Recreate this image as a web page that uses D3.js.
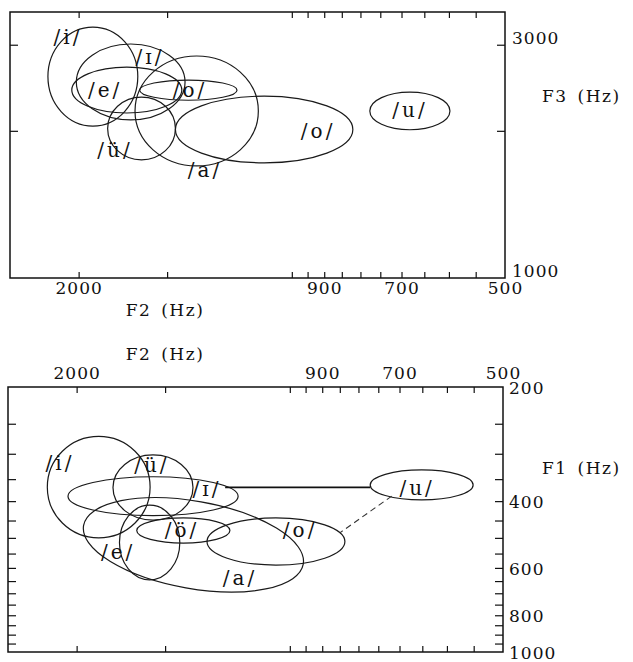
<!DOCTYPE html>
<html>
<head>
<meta charset="utf-8">
<script src="https://cdn.jsdelivr.net/npm/d3@7"></script>
<style>
  body { margin: 0; background: #fff; }
  svg text { font-family: "DejaVu Serif", "Liberation Serif", serif; fill: #111; }
</style>
</head>
<body>
<div id="chart"></div>
<script>
/////////////////////////////////////////////////
/* Data */
/////////////////////////////////////////////////

// ticks and tick labels (Hz)
const f2Ticks = [2000, 1500, 1000, 950, 900, 850, 800, 750, 700, 650, 600, 550];
const f2Labels = [2000, 900, 700, 500];
const f3Ticks = [3000, 2000];
const f3Labels = [3000, 1000];
const f1Ticks = [250, 300, 350, 400, 450, 500, 550, 600, 650, 700, 750, 800, 850, 900, 950];
const f1Labels = [200, 400, 600, 800, 1000];

// upper panel: F2 x F3 vowel areas, [low, high] in Hz
const topVowels = ["/i/", "/ɪ/", "/e/", "/o/", "/ü/", "/a/", "/o/", "/u/"];
const topF2 = [[1650, 2210], [1415, 2015], [1430, 2045], [1195, 1640], [1460, 1820], [1115, 1665], [820, 1460], [598, 776]];
const topF3 = [[2045, 3260], [2105, 3010], [2175, 2700], [2310, 2540], [1745, 2345], [1695, 2845], [1720, 2355], [2010, 2400]];
const topTilt = [0, 0, 0, 0, 0, 0, 0, 0];
const topLabelF2 = [2070, 1586, 1835, 1392, 1777, 1326, 918, 681];
const topLabelF3 = [3110, 2830, 2425, 2425, 1827, 1663, 2000, 2206];

// lower panel: F2 x F1 vowel areas
const botVowels = ["/i/", "/ü/", "/ɪ/", "/e/", "/ö/", "/a/", "/o/", "/u/"];
const botF2 = [[1575, 2200], [1370, 1777], [1183, 2057], [1430, 1740], [1215, 1645], [952, 1966], [836, 1309], [551, 770]];
const botF1 = [[270, 500], [302, 449], [345, 437], [410, 645], [443, 516], [400, 680], [443, 590], [331, 397]];
const botTilt = [0, 0, 0, 0, 0, 10, 0, 0];
const botLabelF2 = [2111, 1566, 1309, 1748, 1420, 1176, 967, 661];
const botLabelF1 = [317, 321, 372, 545, 477, 638, 477, 369];

// connections to /u/ in the lower panel
const linkSolidF2 = [1234, 770];
const linkSolidF1 = [368, 368];
const linkDashF2 = [718, 850];
const linkDashF1 = [388, 485];


/////////////////////////////////////////////////
/* Setup */
/////////////////////////////////////////////////
const svg = d3.select("#chart")
  .append("svg")
    .attr("width", 633)
    .attr("height", 662);

// upper panel scales
const xTop = d3.scaleLog().domain([2500, 500]).range([10, 505]);
const yTop = d3.scaleLog().domain([1000, 3500]).range([278, 12]);

// lower panel scales
const xBot = d3.scaleLog().domain([2500, 500]).range([8, 503]);
const yBot = d3.scaleLog().domain([200, 1000]).range([387, 652]);

const fmt = d3.format("d");


/////////////////////////////////////////////////
/* Helpers */
/////////////////////////////////////////////////

// plot frame
function drawFrame(g, x, y) {
  const [x0, x1] = x.range();
  const [y0, y1] = y.range();
  g.append("rect")
    .attr("x", x0).attr("y", Math.min(y0, y1))
    .attr("width", x1 - x0).attr("height", Math.abs(y1 - y0))
    .attr("fill", "none").attr("stroke", "#111").attr("stroke-width", 1.5);
}

// inward tick marks, no domain line
function tickAxis(g, axis, tx, ty) {
  g.append("g")
    .attr("transform", `translate(${tx},${ty})`)
    .call(axis.tickFormat(""))
    .call(a => a.select(".domain").remove())
    .selectAll("line").attr("stroke", "#111").attr("stroke-width", 1.2);
}

// tick labels only
function labelAxis(g, axis, tx, ty) {
  g.append("g")
    .attr("transform", `translate(${tx},${ty})`)
    .call(axis.tickSize(0).tickFormat(fmt))
    .call(a => a.select(".domain").remove())
    .selectAll("text")
      .style("font-size", "17px")
      .style("letter-spacing", "1px");
}

// vowel areas as ellipses
function drawEllipses(g, x, y, f2, fy, tilt) {
  g.append("g").selectAll("ellipse")
    .data(f2.map((r, i) => ({f2: r, fy: fy[i], tilt: tilt[i]})))
    .join("ellipse")
      .each(function(d) {
        const xa = x(d.f2[1]), xb = x(d.f2[0]);
        const ya = y(d.fy[0]), yb = y(d.fy[1]);
        const cx = (xa + xb) / 2, cy = (ya + yb) / 2;
        d3.select(this)
          .attr("cx", cx).attr("cy", cy)
          .attr("rx", Math.abs(xb - xa) / 2)
          .attr("ry", Math.abs(yb - ya) / 2)
          .attr("transform", `rotate(${d.tilt},${cx},${cy})`);
      })
      .attr("fill", "none")
      .attr("stroke", "#1a1a1a")
      .attr("stroke-width", 1.2);
}

// vowel labels
function drawLabels(g, x, y, names, lf2, lfy) {
  g.append("g").selectAll("text")
    .data(names)
    .join("text")
      .attr("x", (d, i) => x(lf2[i]))
      .attr("y", (d, i) => y(lfy[i]))
      .attr("dy", "0.35em")
      .attr("text-anchor", "middle")
      .style("font-size", "20px")
      .style("letter-spacing", "3px")
      .text(d => d);
}


/////////////////////////////////////////////////
/* Upper panel: F2 x F3 */
/////////////////////////////////////////////////
const upper = svg.append("g");

drawEllipses(upper, xTop, yTop, topF2, topF3, topTilt);
drawLabels(upper, xTop, yTop, topVowels, topLabelF2, topLabelF3);
drawFrame(upper, xTop, yTop);

tickAxis(upper, d3.axisBottom(xTop).tickValues(f2Ticks).tickSize(-6), 0, 278);
tickAxis(upper, d3.axisTop(xTop).tickValues(f2Ticks).tickSize(-6), 0, 12);
tickAxis(upper, d3.axisLeft(yTop).tickValues(f3Ticks).tickSize(-8), 10, 0);
tickAxis(upper, d3.axisRight(yTop).tickValues(f3Ticks).tickSize(-8), 505, 0);

labelAxis(upper, d3.axisBottom(xTop).tickValues(f2Labels).tickPadding(4), 0, 278);
labelAxis(upper, d3.axisRight(yTop).tickValues(f3Labels).tickPadding(7), 505, -7);

upper.append("text")
  .attr("x", 165).attr("y", 316)
  .attr("text-anchor", "middle")
  .style("font-size", "17px").style("letter-spacing", "1.5px").style("word-spacing", "3px")
  .text("F2 (Hz)");

upper.append("text")
  .attr("x", 542).attr("y", 102)
  .style("font-size", "17px").style("letter-spacing", "1.5px").style("word-spacing", "3px")
  .text("F3 (Hz)");


/////////////////////////////////////////////////
/* Lower panel: F2 x F1 */
/////////////////////////////////////////////////
const lower = svg.append("g");

drawEllipses(lower, xBot, yBot, botF2, botF1, botTilt);

lower.append("line")
  .attr("x1", xBot(linkSolidF2[0])).attr("y1", yBot(linkSolidF1[0]))
  .attr("x2", xBot(linkSolidF2[1])).attr("y2", yBot(linkSolidF1[1]))
  .attr("stroke", "#111").attr("stroke-width", 1.6);

lower.append("line")
  .attr("x1", xBot(linkDashF2[0])).attr("y1", yBot(linkDashF1[0]))
  .attr("x2", xBot(linkDashF2[1])).attr("y2", yBot(linkDashF1[1]))
  .attr("stroke", "#333").attr("stroke-width", 1.1)
  .attr("stroke-dasharray", "6,4");

drawLabels(lower, xBot, yBot, botVowels, botLabelF2, botLabelF1);
drawFrame(lower, xBot, yBot);

tickAxis(lower, d3.axisBottom(xBot).tickValues(f2Ticks).tickSize(-6), 0, 652);
tickAxis(lower, d3.axisTop(xBot).tickValues(f2Ticks).tickSize(-6), 0, 387);
tickAxis(lower, d3.axisLeft(yBot).tickValues(f1Ticks).tickSize(-8), 8, 0);
tickAxis(lower, d3.axisRight(yBot).tickValues(f1Ticks).tickSize(-8), 503, 0);

labelAxis(lower, d3.axisTop(xBot).tickValues(f2Labels).tickPadding(8), 0, 387);
labelAxis(lower, d3.axisRight(yBot).tickValues(f1Labels).tickPadding(6), 503, 1);

lower.append("text")
  .attr("x", 165).attr("y", 360)
  .attr("text-anchor", "middle")
  .style("font-size", "17px").style("letter-spacing", "1.5px").style("word-spacing", "3px")
  .text("F2 (Hz)");

lower.append("text")
  .attr("x", 542).attr("y", 474)
  .style("font-size", "17px").style("letter-spacing", "1.5px").style("word-spacing", "3px")
  .text("F1 (Hz)");
</script>
</body>
</html>
